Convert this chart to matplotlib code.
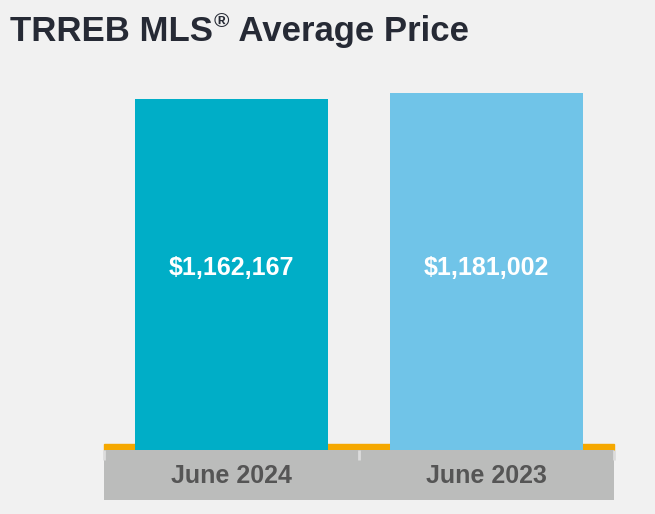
import matplotlib.pyplot as plt
from matplotlib.patches import Rectangle
from matplotlib.transforms import blended_transform_factory

# data
periods = ["June 2024", "June 2023"]
avg_price = [1162167, 1181002]
bar_colors = ["#00aec7", "#70c4e8"]

BG = "#f1f1f1"
plt.rcParams["font.family"] = ["Liberation Sans", "DejaVu Sans"]

fig = plt.figure(figsize=(6.55, 5.14), dpi=100, facecolor=BG)
W, H = 655, 514

# main bar axes: x 104..614 px, y 60..450 px
ax = fig.add_axes([104 / W, (H - 450) / H, 510 / W, 390 / H])
ax.set_facecolor(BG)
x = list(range(len(periods)))
bars = ax.bar(x, avg_price, width=0.753, color=bar_colors, zorder=3)
ax.set_xlim(-0.5, len(periods) - 0.5)
ax.set_ylim(0, 1290000)
ax.axis("off")

# orange baseline strip just above the axis, behind the bars
ax.add_patch(Rectangle((0, 0), 1, 6 / 390, transform=ax.transAxes,
                       color="#f5a800", zorder=2, clip_on=False))

# value labels sit at the same height inside each bar
lbl_tr = blended_transform_factory(ax.transData, ax.transAxes)
for b, v in zip(bars, avg_price):
    ax.text(b.get_x() + b.get_width() / 2, 0.467, f"${v:,}",
            transform=lbl_tr, ha="center", va="center", color="white",
            fontsize=18, fontweight="bold", zorder=4)

# grey category band below
band = fig.add_axes([104 / W, (H - 500) / H, 510 / W, 50 / H])
band.set_facecolor("#bbbcbb")
band.set_xlim(-0.5, len(periods) - 0.5)
band.set_ylim(0, 1)
for s in band.spines.values():
    s.set_visible(False)
band.set_yticks([])
band.set_xticks([i - 0.5 for i in range(len(periods) + 1)])
band.set_xticklabels([])
band.tick_params(axis="x", direction="in", length=7, width=2,
                 color="#dcdcdc", top=True, bottom=False)
for i, p in enumerate(periods):
    band.text(i, 0.48, p, ha="center", va="center", color="#555555",
              fontsize=18, fontweight="bold")

# title with superscript registered mark
fig.canvas.draw()
r = fig.canvas.get_renderer()
t1 = fig.text(10 / W, 1 - 41 / H, "TRREB MLS", fontsize=25, fontweight="bold",
              color="#262a35", va="baseline")
e1 = t1.get_window_extent(r)
t2 = fig.text(e1.x1 / W + 1 / W, 1 - 27 / H, "®", fontsize=15,
              fontweight="bold", color="#262a35", va="baseline")
e2 = t2.get_window_extent(r)
fig.text(e2.x1 / W, 1 - 41 / H, " Average Price", fontsize=25,
         fontweight="bold", color="#262a35", va="baseline")

fig.savefig("out.png", dpi=100, facecolor=BG)
